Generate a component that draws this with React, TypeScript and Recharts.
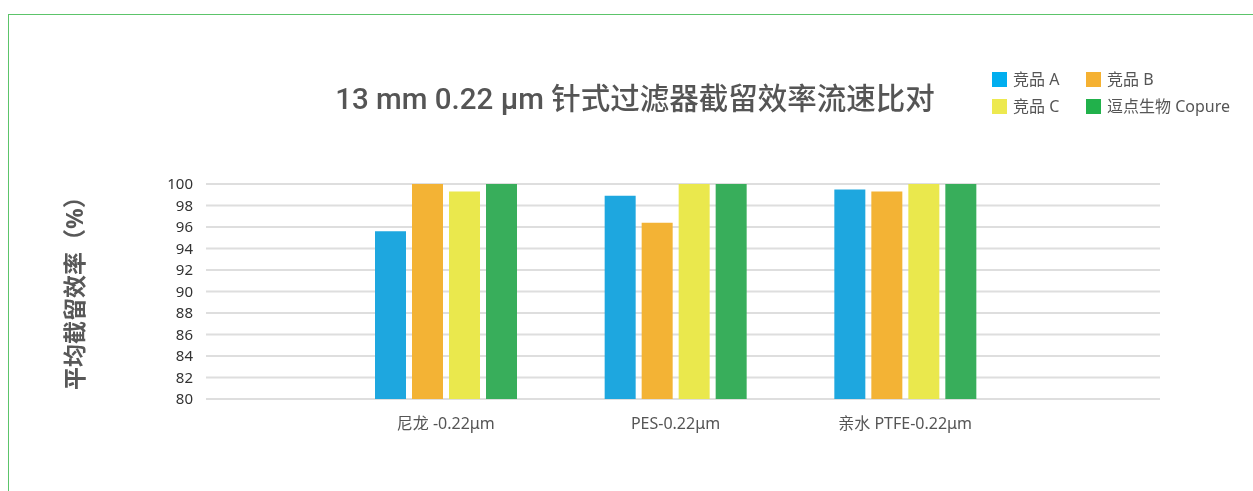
import React from 'react';
import { BarChart, Bar, XAxis, YAxis, CartesianGrid, Legend } from 'recharts';

// Filter types on the x axis
const categories = ['尼龙 -0.22μm', 'PES-0.22μm', '亲水 PTFE-0.22μm'];

// Average retention efficiency (%) per product
const productA = [95.6, 98.9, 99.5];
const productB = [100, 96.4, 99.3];
const productC = [99.3, 100, 100];
const copure = [100, 100, 100];

const yTicks = [80, 82, 84, 86, 88, 90, 92, 94, 96, 98, 100];

const seriesNames = ['竞品 A', '竞品 B', '竞品 C', '逗点生物 Copure'];
const barColors = ['#1EA7DF', '#F3B335', '#EAE84D', '#38AE5B'];
const legendColors = ['#00AEEF', '#F5B132', '#EDE94F', '#21B14B'];

const data = categories.map((name, i) => ({
  name,
  a: productA[i],
  b: productB[i],
  c: productC[i],
  d: copure[i],
}));

const keys = ['a', 'b', 'c', 'd'];

const FONT = '"Noto Sans", "Noto Sans CJK SC", sans-serif';
const TITLE_FONT = 'Roboto, "Noto Sans CJK SC", sans-serif';

const LegendGrid = () => (
  <div style={{ display: 'grid', gridTemplateColumns: '94px 160px', rowGap: 12, fontFamily: FONT }}>
    {seriesNames.map((n, i) => (
      <div key={n} style={{ display: 'flex', alignItems: 'center', height: 15 }}>
        <span style={{ width: 15, height: 15, background: legendColors[i], display: 'inline-block', flex: 'none' }} />
        <span style={{ marginLeft: 6, fontSize: 16, color: '#555', lineHeight: '15px', whiteSpace: 'nowrap' }}>{n}</span>
      </div>
    ))}
  </div>
);

const YLabel = (props: any) => {
  const vb = props.viewBox || {};
  const cx = (vb.x ?? 0) + 66;
  const cy = (vb.y ?? 0) + (vb.height ?? 0) / 2 - 4;
  return (
    <text
      x={cx}
      y={cy}
      transform={`rotate(-90, ${cx}, ${cy})`}
      textAnchor="middle"
      dominantBaseline="central"
      fontFamily={FONT}
      fontSize={23}
      fontWeight={700}
      fill="#585858"
    >
      平均截留效率（%）
    </text>
  );
};

export default function App() {
  return (
    <div style={{ position: 'relative', width: 1245, height: 483, marginBottom: -8, overflow: 'hidden', fontFamily: FONT }}>
      <div
        style={{
          position: 'fixed',
          left: 8,
          top: 14,
          width: 2000,
          height: 2000,
          borderTop: '1px solid #5CC46A',
          borderLeft: '1px solid #5CC46A',
          pointerEvents: 'none',
        }}
      />
      <div
        style={{
          position: 'absolute',
          left: 227,
          width: 800,
          top: 73,
          textAlign: 'center',
          fontFamily: TITLE_FONT,
          fontSize: 29.5,
          lineHeight: '36px',
          fontWeight: 500,
          color: '#555',
          whiteSpace: 'nowrap',
        }}
      >
        13 mm 0.22 μm 针式过滤器截留效率流速比对
      </div>
      <div style={{ position: 'absolute', left: 0, top: 0 }}>
        <BarChart
          width={1245}
          height={483}
          data={data}
          margin={{ top: 176, right: 93, bottom: 52, left: 0 }}
          barSize={31}
          barGap={6}
        >
          <CartesianGrid vertical={false} stroke="#DEDEDE" strokeWidth={2} />
          <XAxis
            dataKey="name"
            height={40}
            axisLine={false}
            tickLine={false}
            tickMargin={13}
            padding={{ left: 125, right: 140 }}
            tick={{ fontSize: 16, fill: '#555', fontFamily: FONT }}
            interval={0}
          />
          <YAxis
            width={198}
            domain={[80, 100]}
            ticks={yTicks}
            interval={0}
            axisLine={false}
            tickLine={false}
            tickMargin={7}
            tick={{ fontSize: 15, fill: '#333', fontFamily: FONT }}
            label={<YLabel />}
          />
          <Legend
            layout="vertical"
            align="center"
            verticalAlign="middle"
            wrapperStyle={{ left: 984, top: 64, width: 260 }}
            content={() => <LegendGrid />}
          />
          {keys.map((k, i) => (
            <Bar key={k} dataKey={k} name={seriesNames[i]} fill={barColors[i]} isAnimationActive={false} />
          ))}
        </BarChart>
      </div>
    </div>
  );
}
